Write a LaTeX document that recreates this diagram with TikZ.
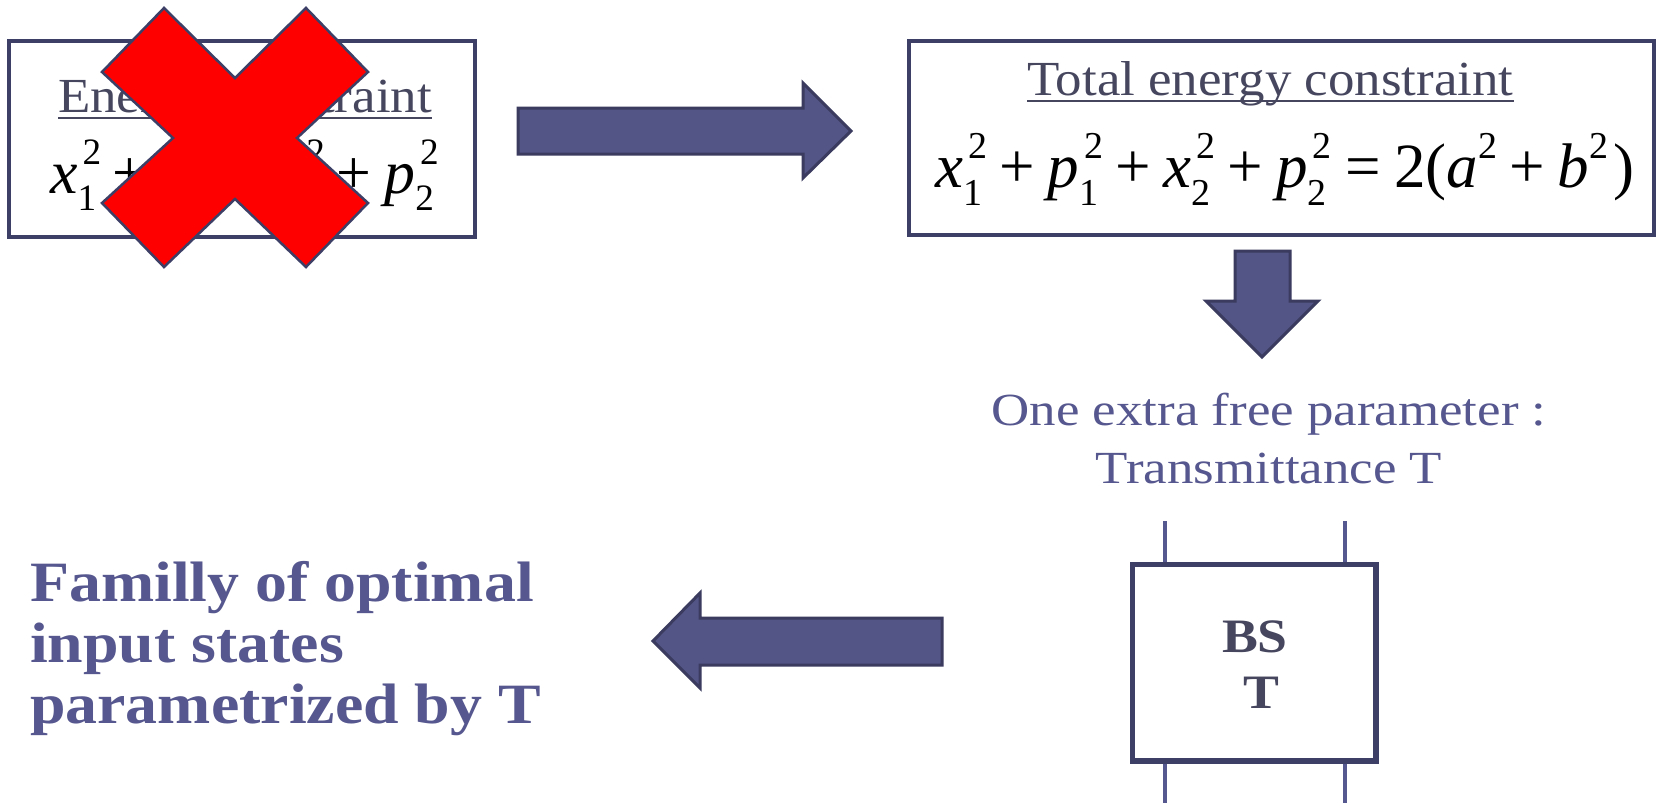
\documentclass[tikz,border=0pt]{standalone}
\usepackage{fontspec}
\setmainfont{Liberation Serif}
\newfontfamily\txtfont[FakeStretch=1.08]{Liberation Serif}
\newfontfamily\notefont[FakeStretch=1.15]{Liberation Serif}
\newfontfamily\bldfont[FakeStretch=1.12]{Liberation Serif}
\newfontfamily\eqfont{Liberation Serif}
\definecolor{boxline}{HTML}{3E3F66}
\definecolor{boxtext}{HTML}{46475F}
\definecolor{bluetext}{HTML}{55578E}
\definecolor{arrowfill}{HTML}{535586}
\definecolor{arrowline}{HTML}{3A3B5F}
\definecolor{bsline}{HTML}{55588F}
\definecolor{crossred}{HTML}{FF0000}
\newcommand{\eqscr}{\fontsize{38}{38}\selectfont\upshape}
\newcommand{\subsup}[2]{\makebox[0pt][l]{\hspace{5pt}\raisebox{29pt}{\eqscr #2}}\raisebox{-18pt}{\eqscr #1}}
\newcommand{\suponly}[1]{\raisebox{29pt}{\eqscr #1}}
\newcommand{\eqplus}{\hspace{17pt}+\hspace{13pt}}
\newcommand{\eqsum}{{\itshape x}\subsup{1}{2}\eqplus{\itshape p}\subsup{1}{2}\eqplus{\itshape x}\subsup{2}{2}\eqplus{\itshape p}\subsup{2}{2}}
\begin{document}
\begin{tikzpicture}[x=1pt,y=-1pt,
  cbox/.style={draw=boxline,line width=3.5pt,fill=white,inner sep=0pt},
  txt/.style={inner sep=0pt,anchor=base west},
  title/.style={txt,text=boxtext,font=\txtfont\fontsize{49}{49}\selectfont},
  eqn/.style={txt,text=black,font=\eqfont\fontsize{63}{63}\selectfont},
  ul/.style={draw=boxtext,line width=2.5pt},
  blockarrow/.style={fill=arrowfill,draw=arrowline,line width=3pt,line join=miter},
  crossmark/.style={fill=crossred,draw=boxline,line width=2.5pt,line join=miter},
  note/.style={inner sep=0pt,anchor=base,text=bluetext,font=\notefont\fontsize{46}{46}\selectfont},
  fam/.style={txt,text=bluetext,font=\bldfont\bfseries\fontsize{57}{57}\selectfont},
  bsl/.style={draw=bsline,line width=3.5pt},
  bstext/.style={inner sep=0pt,anchor=base,text=boxtext,font=\bldfont\bfseries\fontsize{48}{48}\selectfont}]
\useasboundingbox (0,0) rectangle (1656,803);
\fill[white] (0,0) rectangle (1656,803);

% left box (crossed out)
\node[cbox,minimum width=466pt,minimum height=196pt] (lbox) at (242,139) {};
\node[title] (ltitle) at (58,112) {Energy constraint};
\draw[ul] ([yshift=-6pt]ltitle.base west) -- ([yshift=-6pt]ltitle.base east);
\node[eqn] (leq) at (50,193) {\scalebox{0.98}{\eqsum}};
\filldraw[crossmark] (164,8) -- (235,78) -- (306,8) -- (368,72) -- (297,138) -- (368,203)
  -- (306,267) -- (235,199) -- (164,267) -- (102,203) -- (173,138) -- (102,72) -- cycle;

% right box
\node[cbox,minimum width=745pt,minimum height=194pt] (rbox) at (1281.5,138) {};
\node[title] (rtitle) at (1027,95) {Total energy constraint};
\draw[ul] ([yshift=-6pt]rtitle.base west) -- ([yshift=-6pt]rtitle.base east);
\node[eqn] (req) at (935,187) {\eqsum\hspace{19pt}=\hspace{13pt}2({\itshape a}\suponly{2}\hspace{12pt}+\hspace{13pt}{\itshape b}\suponly{2}\hspace{5pt})};

% block arrows
\filldraw[blockarrow] (518,108) -- (803,108) -- (803,83) -- (851,131) -- (803,178) -- (803,154) -- (518,154) -- cycle;
\filldraw[blockarrow] (1235,251) -- (1290,251) -- (1290,301) -- (1318,301) -- (1262,357) -- (1206,301) -- (1235,301) -- cycle;
\filldraw[blockarrow] (942,618) -- (700,618) -- (700,593) -- (653,641) -- (700,688) -- (700,665) -- (942,665) -- cycle;

% free parameter text
\node[note] (n1) at (1269,425) {One extra free parameter :};
\node[note] (n2) at (1269,483) {Transmittance T};

% beam splitter
\coordinate (in1) at (1165,521);
\coordinate (in2) at (1345,521);
\coordinate (out1) at (1165,803);
\coordinate (out2) at (1345,803);
\node[cbox,minimum width=242pt,minimum height=195pt] (bs) at (1254,662.5) {};
\draw[bsl] (in1) -- (in1 |- bs.north);
\draw[bsl] (in2) -- (in2 |- bs.north);
\draw[bsl] (out1 |- bs.south) -- (out1);
\draw[bsl] (out2 |- bs.south) -- (out2);
\draw[draw=boxline,line width=3.5pt] (bs.north west) rectangle (bs.south east);
\node[bstext] (bs1) at (1255,652) {BS};
\node[bstext] (bs2) at (1261,708) {T};

% family text
\node[fam] (f1) at (30,601) {Familly of optimal};
\node[fam] (f2) at (30,662) {input states};
\node[fam] (f3) at (30,723) {parametrized by T};
\end{tikzpicture}
\end{document}
